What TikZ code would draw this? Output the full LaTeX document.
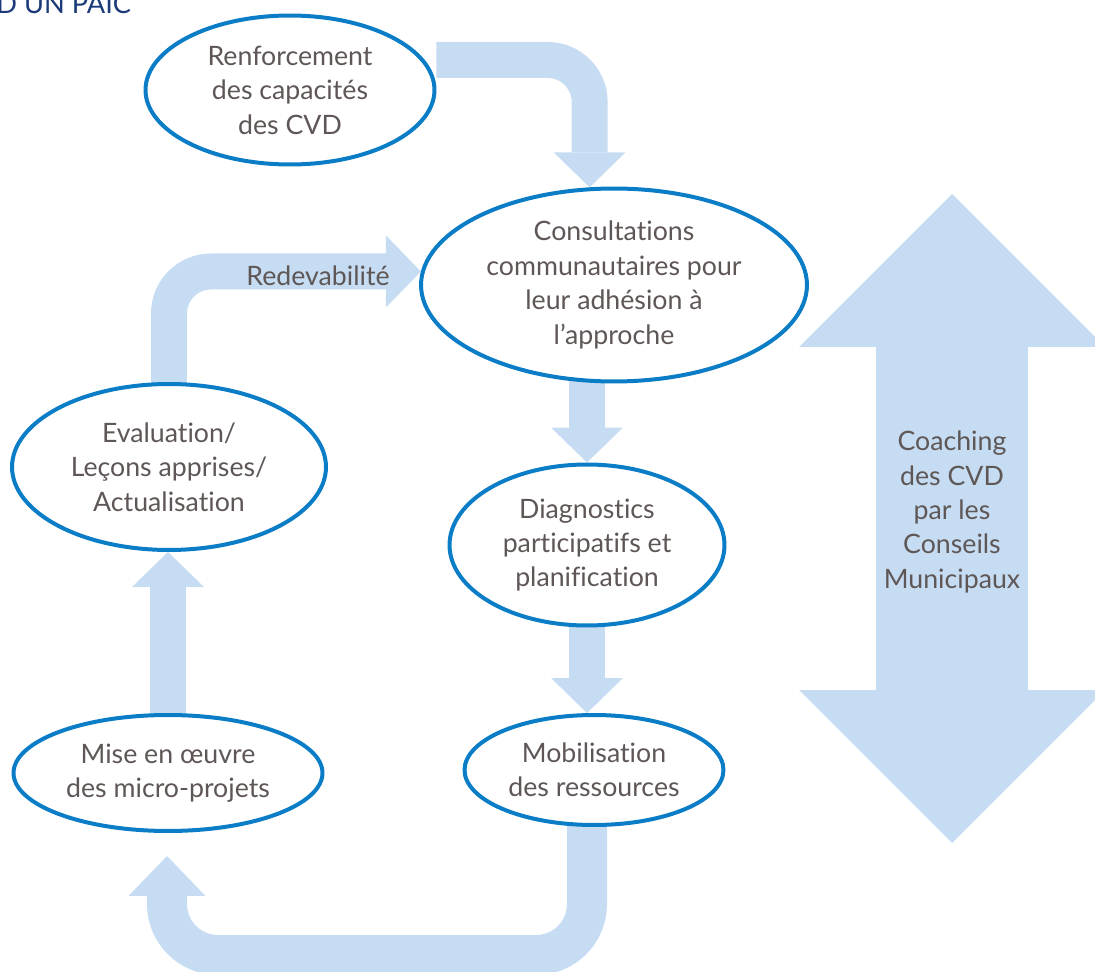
\documentclass[tikz,border=0pt]{standalone}
\usepackage{fontspec}
\setmainfont{Lato}[Ligatures=NoCommon]
\usetikzlibrary{shapes.geometric,arrows.meta,backgrounds}
\definecolor{ringblue}{HTML}{0A7DC6}
\definecolor{bandblue}{HTML}{C6DCF2}
\definecolor{textgray}{HTML}{5E5756}
\definecolor{titlenavy}{HTML}{1B3A78}
\tikzset{
  stage/.style={ellipse, draw=ringblue, line width=0.08cm, fill=white,
    align=center, text=textgray, font=\fontsize{15.2}{19.6}\selectfont,
    inner xsep=0pt, inner ysep=-0.5cm},
  label/.style={text=textgray, align=center, font=\fontsize{15.2}{19.6}\selectfont},
  band/.style={draw=bandblue, line width=0.72cm, rounded corners=0.84cm,
    -{Triangle[width=1.44cm,length=0.7cm,line width=0pt]}},
}
\begin{document}
\begin{tikzpicture}[x=0.02cm,y=-0.02cm]
  \useasboundingbox (0,0) rectangle (1095,972);
  \clip (0,0) rectangle (1095,972);
  \node[anchor=base west, inner sep=0pt, text=titlenavy,
        font=\fontsize{15.5}{18}\selectfont] (title) at (-4,14) {D UN PAIC};
  \node[stage, minimum width=5.78cm, minimum height=2.98cm] (renf) at (290,90)
    {Renforcement\\des capacités\\des CVD};
  \node[stage, minimum width=7.72cm, minimum height=3.86cm] (cons) at (614,285)
    {Consultations\\communautaires pour\\leur adhésion à\\l’approche};
  \node[stage, minimum width=6.28cm, minimum height=3.32cm] (eval) at (169,467)
    {Evaluation/\\Leçons apprises/\\Actualisation};
  \node[stage, minimum width=5.5cm, minimum height=3.22cm] (diag) at (587,545)
    {Diagnostics\\participatifs et\\planification};
  \node[stage, minimum width=6.18cm, minimum height=2.32cm] (mise) at (168,773)
    {Mise en œuvre\\des micro-projets};
  \node[stage, minimum width=5.18cm, minimum height=2.2cm] (mobi) at (594,770)
    {Mobilisation\\des ressources};
  \node[label] (redev) at (318,276) {Redevabilité};
  \node[label] (coach) at (952,512) {Coaching\\des CVD\\par les\\Conseils\\Municipaux};
  \coordinate (rowA) at (0,60);
  \coordinate (rowB) at (0,955);
  \coordinate (backtip) at (167,856);
  \coordinate (coachtop) at (952,194);
  \coordinate (coachbot) at (952,843);
  \begin{scope}[on background layer]
    \draw[band] (renf.east |- rowA) -| (cons.104);
    \draw[band] (eval.center) |- (cons.176);
    \draw[band] (cons.center -| diag.north) -- (diag.north);
    \draw[band] (diag.center) -- (diag.center |- mobi.north);
    \draw[band] (mise.center) -- (mise.center |- eval.south);
    \draw[band, line width=0.8cm, rounded corners=1.02cm,
          -{Triangle[width=1.54cm,length=0.8cm,line width=0pt]}]
      (mobi.center -| diag.center) |- (rowB -| backtip) -- (backtip);
    \draw[draw=bandblue, line width=3.06cm,
          {Triangle[width=6.12cm,length=3.06cm,line width=0pt]}-{Triangle[width=6.12cm,length=3.06cm,line width=0pt]}]
      (coachtop) -- (coachbot);
  \end{scope}
\end{tikzpicture}
\end{document}
